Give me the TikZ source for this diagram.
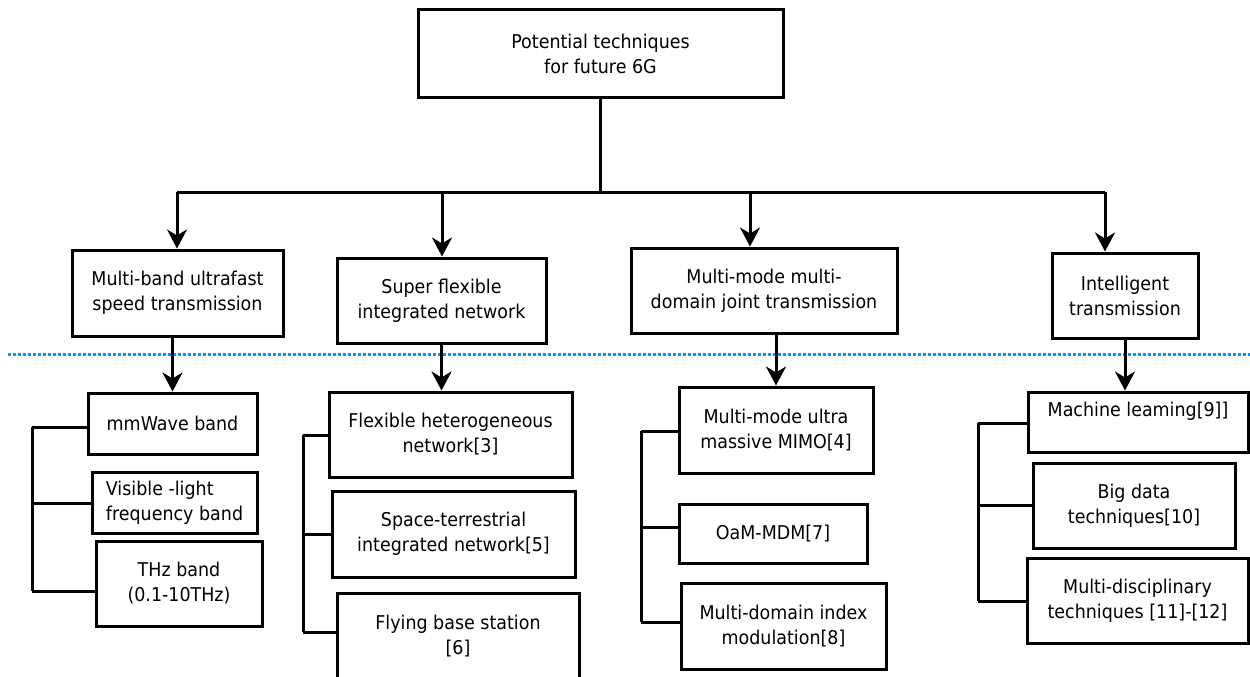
\documentclass[tikz,border=0pt]{standalone}
\usepackage{fontspec}
\setmainfont{DejaVu Sans}[FakeStretch=0.92]
\usetikzlibrary{arrows.meta}
\definecolor{dotblue}{RGB}{0,150,255}
\begin{document}
\begin{tikzpicture}[x=1pt,y=-1pt,
  box/.style={draw, line width=3pt, align=center, inner sep=0pt,
    font=\fontsize{19}{25}\selectfont},
  conn/.style={line width=3pt},
  arr/.style={conn, -{Stealth[length=19pt,width=20pt,inset=6pt]}},
  sep/.style={dotblue, line width=3pt, dash pattern=on 2.5pt off 2.5pt}]
\useasboundingbox (0,0) rectangle (1250,677);

% top
\node[box, minimum width=365, minimum height=87] (top) at (600.5,53.5) {Potential techniques\\for future 6G};

% level 2
\node[box, minimum width=211, minimum height=86] (b1) at (177.5,293) {Multi-band ultrafast\\speed transmission};
\node[box, minimum width=209, minimum height=85] (b2) at (441.5,300.5) {Super flexible\\integrated network};
\node[box, minimum width=266, minimum height=85] (b3) at (764,290.5) {Multi-mode multi-\\domain joint transmission};
\node[box, minimum width=146, minimum height=85] (b4) at (1125,295.5) {Intelligent\\transmission};

% bus
\coordinate (t1) at (177,192);
\coordinate (t2) at (442,192);
\coordinate (t3) at (750,192);
\coordinate (t4) at (1105,192);
\draw[conn] (top.south) -- (top.south |- t1);
\draw[conn] (t1) -- (t4);
\draw[arr] (t1) -- (t1 |- b1.north);
\draw[arr] (t2) -- (t2 |- b2.north);
\draw[arr] (t3) -- (t3 |- b3.north);
\draw[arr] (t4) -- (t4 |- b4.north);

% separator
\coordinate (s0) at (8,354);
\coordinate (s1) at (1250,354);
\draw[sep] (s0) -- (s1);

% level 3, column 1
\node[box, minimum width=169, minimum height=61] (m1) at (172.5,423.5) {mmWave band};
\node[box, minimum width=165, minimum height=61, align=left] (m2) at (174.5,502.5) {Visible -light\\frequency band};
\node[box, minimum width=166, minimum height=85] (m3) at (179,583.5) {THz band\\(0.1-10THz)};

% column 2
\node[box, minimum width=243, minimum height=85] (f1) at (450.5,434.5) {Flexible heterogeneous\\network[3]};
\node[box, minimum width=243, minimum height=86] (f2) at (453.5,534) {Space-terrestrial\\integrated network[5]};
\node[box, minimum width=242, minimum height=87] (f3) at (458,636.5) {Flying base station\\[0pt][6]};

% column 3
\node[box, minimum width=194, minimum height=86] (c1) at (776,430) {Multi-mode ultra\\massive MIMO[4]};
\node[box, minimum width=188, minimum height=59] (c2) at (773,533.5) {OaM-MDM[7]};
\node[box, minimum width=205, minimum height=86] (c3) at (783.5,626) {Multi-domain index\\modulation[8]};

% column 4
\node[box, minimum width=220, minimum height=60] (i1) at (1138,422) {Machine leaming[9]]\\\mbox{}};
\node[box, minimum width=202, minimum height=85] (i2) at (1134,505.5) {Big data\\techniques[10]};
\node[box, minimum width=221, minimum height=85] (i3) at (1137.5,600.5) {Multi-disciplinary\\techniques [11]-[12]};

% arrows level 2 -> 3
\draw[arr] (b1.south -| m1.north) -- (m1.north);
\draw[arr] (b2.south) -- (b2.south |- f1.north);
\draw[arr] (b3.south -| c1.north) -- (c1.north);
\draw[arr] (b4.south) -- (b4.south |- i1.north);

% brackets
\coordinate (k11) at (32,427);
\coordinate (k12) at (32,503);
\coordinate (k13) at (32,591);
\draw[conn] (k11) -- (k13);
\draw[conn] (k11) -- (k11 -| m1.west);
\draw[conn] (k12) -- (k12 -| m2.west);
\draw[conn] (k13) -- (k13 -| m3.west);

\coordinate (k21) at (303,435);
\coordinate (k22) at (303,534);
\coordinate (k23) at (303,632);
\draw[conn] (k21) -- (k23);
\draw[conn] (k21) -- (k21 -| f1.west);
\draw[conn] (k22) -- (k22 -| f2.west);
\draw[conn] (k23) -- (k23 -| f3.west);

\coordinate (k31) at (641,431);
\coordinate (k32) at (641,527);
\coordinate (k33) at (641,622);
\draw[conn] (k31) -- (k33);
\draw[conn] (k31) -- (k31 -| c1.west);
\draw[conn] (k32) -- (k32 -| c2.west);
\draw[conn] (k33) -- (k33 -| c3.west);

\coordinate (k41) at (978,423);
\coordinate (k42) at (978,505);
\coordinate (k43) at (978,601);
\draw[conn] (k41) -- (k43);
\draw[conn] (k41) -- (k41 -| i1.west);
\draw[conn] (k42) -- (k42 -| i2.west);
\draw[conn] (k43) -- (k43 -| i3.west);
\end{tikzpicture}
\end{document}
